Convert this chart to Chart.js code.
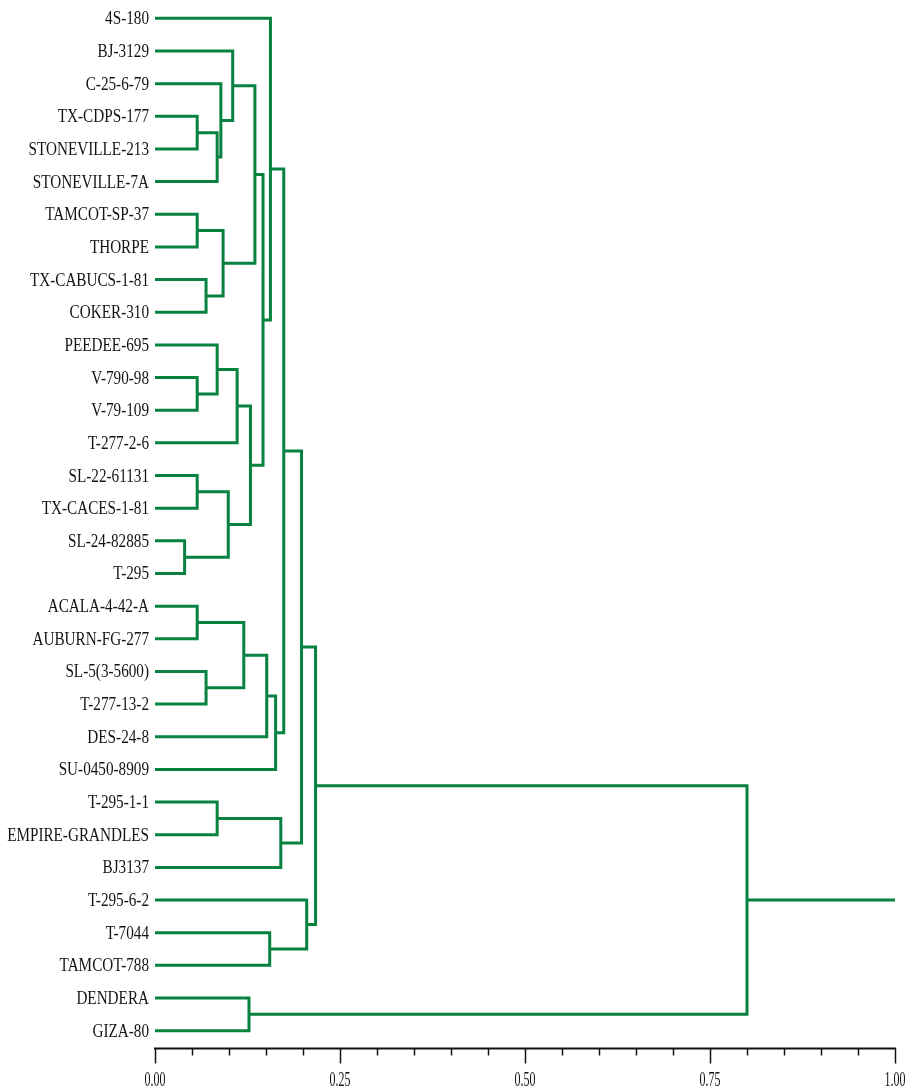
<!DOCTYPE html>
<html>
<head>
<meta charset="utf-8">
<script src="https://cdn.jsdelivr.net/npm/chart.js@4.4.1/dist/chart.umd.min.js"></script>
<style>
  html, body { margin: 0; padding: 0; background: #fff; }
  canvas { display: block; }
</style>
</head>
<body>
<canvas id="dendro" width="907" height="1090"></canvas>
<script>
const leaves = [
  '4S-180', 'BJ-3129', 'C-25-6-79', 'TX-CDPS-177', 'STONEVILLE-213', 'STONEVILLE-7A',
  'TAMCOT-SP-37', 'THORPE', 'TX-CABUCS-1-81', 'COKER-310', 'PEEDEE-695', 'V-790-98',
  'V-79-109', 'T-277-2-6', 'SL-22-61131', 'TX-CACES-1-81', 'SL-24-82885', 'T-295',
  'ACALA-4-42-A', 'AUBURN-FG-277', 'SL-5(3-5600)', 'T-277-13-2', 'DES-24-8', 'SU-0450-8909',
  'T-295-1-1', 'EMPIRE-GRANDLES', 'BJ3137', 'T-295-6-2', 'T-7044', 'TAMCOT-788',
  'DENDERA', 'GIZA-80'
];

// [nodeA, nodeB, distance]; node >= 32 is the cluster made by merge (node - 32)
const merges = [
  [3, 4, 0.057],   // 32
  [32, 5, 0.084],  // 33
  [2, 33, 0.089],  // 34
  [1, 34, 0.105],  // 35
  [6, 7, 0.057],   // 36
  [8, 9, 0.069],   // 37
  [36, 37, 0.092], // 38
  [35, 38, 0.135], // 39
  [11, 12, 0.057], // 40
  [10, 40, 0.084], // 41
  [41, 13, 0.111], // 42
  [14, 15, 0.057], // 43
  [16, 17, 0.040], // 44
  [43, 44, 0.099], // 45
  [42, 45, 0.129], // 46
  [39, 46, 0.146], // 47
  [0, 47, 0.156],  // 48
  [18, 19, 0.057], // 49
  [20, 21, 0.069], // 50
  [49, 50, 0.120], // 51
  [51, 22, 0.151], // 52
  [52, 23, 0.163], // 53
  [48, 53, 0.174], // 54
  [24, 25, 0.084], // 55
  [55, 26, 0.170], // 56
  [54, 56, 0.198], // 57
  [28, 29, 0.155], // 58
  [27, 58, 0.205], // 59
  [57, 59, 0.217], // 60
  [30, 31, 0.127], // 61
  [60, 61, 0.800]  // 62
];
const rootEnd = 1.0;

const xTickValues = [0, 0.25, 0.5, 0.75, 1];
const xTickLabels = ['0.00', '0.25', '0.50', '0.75', '1.00'];
const xMinorStep = 0.05;

const green = 'rgb(8, 130, 64)';

// build the U shaped links from the merge list
const nodeX = leaves.map(() => 0);
const nodeY = leaves.map((_, i) => i);
const links = [];
merges.forEach(([a, b, d]) => {
  links.push([
    { x: nodeX[a], y: nodeY[a] },
    { x: d, y: nodeY[a] },
    { x: d, y: nodeY[b] },
    { x: nodeX[b], y: nodeY[b] }
  ]);
  nodeX.push(d);
  nodeY.push((nodeY[a] + nodeY[b]) / 2);
});
const rootId = nodeX.length - 1;
links.push([
  { x: nodeX[rootId], y: nodeY[rootId] },
  { x: rootEnd, y: nodeY[rootId] }
]);

const datasets = links.map(pts => ({
  data: pts,
  showLine: true,
  borderColor: green,
  borderWidth: 3,
  borderJoinStyle: 'miter',
  borderCapStyle: 'butt',
  pointRadius: 0,
  tension: 0,
  clip: false
}));

// leaf labels and the distance axis, drawn at positions from the chart's scales
const axisPlugin = {
  id: 'dendroAxis',
  afterDraw(chart) {
    const { ctx, chartArea, scales: { x, y } } = chart;
    ctx.save();
    ctx.fillStyle = '#141414';
    ctx.font = '19px "Liberation Serif", "DejaVu Serif", serif';
    ctx.textAlign = 'right';
    ctx.textBaseline = 'middle';
    leaves.forEach((name, i) => {
      ctx.save();
      ctx.translate(chartArea.left - 6, y.getPixelForValue(i) + 1);
      ctx.scale(0.8, 1);
      ctx.fillText(name, 0, 0);
      ctx.restore();
    });

    const ay = chartArea.bottom + 1.5;
    ctx.strokeStyle = '#111';
    ctx.lineWidth = 2;
    ctx.beginPath();
    ctx.moveTo(x.getPixelForValue(0) - 1, ay);
    ctx.lineTo(x.getPixelForValue(1) + 1, ay);
    ctx.stroke();

    ctx.lineWidth = 1.5;
    const n = Math.round(1 / xMinorStep);
    for (let k = 0; k <= n; k++) {
      const px = Math.round(x.getPixelForValue(k * xMinorStep)) + 0.5;
      const len = k % 5 === 0 ? 15 : 7;
      ctx.beginPath();
      ctx.moveTo(px, ay);
      ctx.lineTo(px, ay + len);
      ctx.stroke();
    }

    ctx.font = '20px "Liberation Serif", "DejaVu Serif", serif';
    ctx.textAlign = 'center';
    xTickValues.forEach((v, i) => {
      ctx.save();
      ctx.translate(x.getPixelForValue(v), 1081);
      ctx.scale(0.6, 1);
      ctx.fillText(xTickLabels[i], 0, 0);
      ctx.restore();
    });
    ctx.restore();
  }
};

new Chart(document.getElementById('dendro'), {
  type: 'scatter',
  data: { datasets },
  options: {
    responsive: false,
    devicePixelRatio: 1,
    animation: false,
    layout: {
      padding: { left: 155, right: 12, top: 2, bottom: 43 }
    },
    scales: {
      x: { type: 'linear', min: 0, max: 1, display: false },
      y: { type: 'linear', min: -0.5, max: 31.5, reverse: true, display: false }
    },
    plugins: {
      legend: { display: false },
      tooltip: { enabled: false }
    }
  },
  plugins: [axisPlugin]
});
</script>
</body>
</html>
